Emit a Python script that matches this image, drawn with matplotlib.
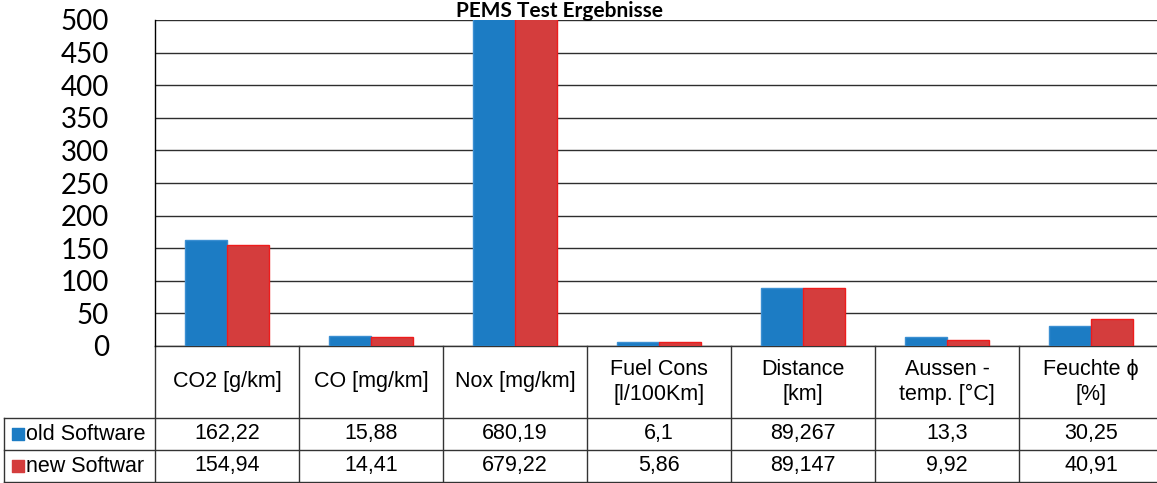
import numpy as np
import matplotlib.pyplot as plt
import matplotlib.transforms as mtransforms

categories = ['CO2 [g/km]', 'CO [mg/km]', 'Nox [mg/km]', 'Fuel Cons\n[l/100Km]',
              'Distance\n[km]', 'Aussen -\ntemp. [°C]', 'Feuchte ϕ\n[%]']
old_sw = [162.22, 15.88, 680.19, 6.1, 89.267, 13.3, 30.25]
new_sw = [154.94, 14.41, 679.22, 5.86, 89.147, 9.92, 40.91]
old_txt = ['162,22', '15,88', '680,19', '6,1', '89,267', '13,3', '30,25']
new_txt = ['154,94', '14,41', '679,22', '5,86', '89,147', '9,92', '40,91']
series_names = ['old Software', 'new Softwar']
yticks = [0, 50, 100, 150, 200, 250, 300, 350, 400, 450, 500]

blue = '#1c7cc4'
red = '#d43d3d'
tfont = ['Liberation Sans', 'DejaVu Sans']
tsize = 15.5

W, H = 1157, 483
fig = plt.figure(figsize=(W / 100, H / 100), dpi=100)
# axes: left edge 155px, zero line at 346px, top at 20px, 144px per category
x0, ytop, yzero, colw = 155, 20, 346, 144
ax = fig.add_axes([x0 / W, 1 - yzero / H, 7 * colw / W, (yzero - ytop) / H])

x = np.arange(len(categories))
bw = 0.29
ax.bar(x - bw / 2, old_sw, bw, color=blue, edgecolor='#3b8fd2', lw=1, zorder=3)
ax.bar(x + bw / 2, new_sw, bw, color=red, edgecolor='#ee1c1c', lw=1, zorder=3)

ax.set_xlim(-0.5, len(categories) - 0.5)
ax.set_ylim(0, 500)
ax.set_yticks(yticks)
ax.set_yticklabels([str(t) for t in yticks], fontsize=20, family=['Lato', 'DejaVu Sans'])
ax.tick_params(axis='y', length=0, pad=33)
ax.set_xticks([])
ax.yaxis.grid(True, color='#2e2e2e', lw=1)
ax.set_axisbelow(True)
for s in ['top', 'right', 'bottom']:
    ax.spines[s].set_visible(False)
ax.spines['left'].set_color('black')
ax.spines['left'].set_linewidth(1)

fig.text(560 / W, 1 - 17 / H, 'PEMS Test Ergebnisse', ha='center', va='baseline',
         fontsize=15, fontweight='bold', family=['Lato', 'DejaVu Sans'])

# data table under the axes
tr = mtransforms.blended_transform_factory(ax.transData, ax.transAxes)
hax = yzero - ytop
rows_px = [346, 418, 450, 482]
ry = [(yzero - p) / hax for p in rows_px]
xl = (4 - x0) / colw - 0.5
xr = len(categories) - 0.5
lc = '#333333'
kw = dict(transform=tr, clip_on=False, color=lc, lw=1)
ax.plot([-0.5, xr], [ry[0], ry[0]], **kw)
for yy in ry[1:]:
    ax.plot([xl, xr], [yy, yy], **kw)
for i in range(len(categories) + 1):
    ax.plot([i - 0.5, i - 0.5], [ry[0], ry[3]], **kw)
ax.plot([xl, xl], [ry[1], ry[3]], **kw)

for i, c in enumerate(categories):
    ax.text(i, (ry[0] + ry[1]) / 2, c, transform=tr, ha='center', va='center',
            fontsize=tsize, family=tfont, linespacing=1.3)
    ax.text(i, (ry[1] + ry[2]) / 2, old_txt[i], transform=tr, ha='center',
            va='center', fontsize=tsize, family=tfont)
    ax.text(i, (ry[2] + ry[3]) / 2, new_txt[i], transform=tr, ha='center',
            va='center', fontsize=tsize, family=tfont)

for j, (name, col) in enumerate(zip(series_names, [blue, red])):
    ymid = (ry[1 + j] + ry[2 + j]) / 2
    ax.scatter([xl + 14 / colw], [ymid], marker='s', s=85, color=col,
               transform=tr, clip_on=False, zorder=4)
    ax.text(xl + 22 / colw, ymid, name, transform=tr, ha='left', va='center',
            fontsize=tsize, family=tfont)

fig.savefig('out.png', dpi=100)
